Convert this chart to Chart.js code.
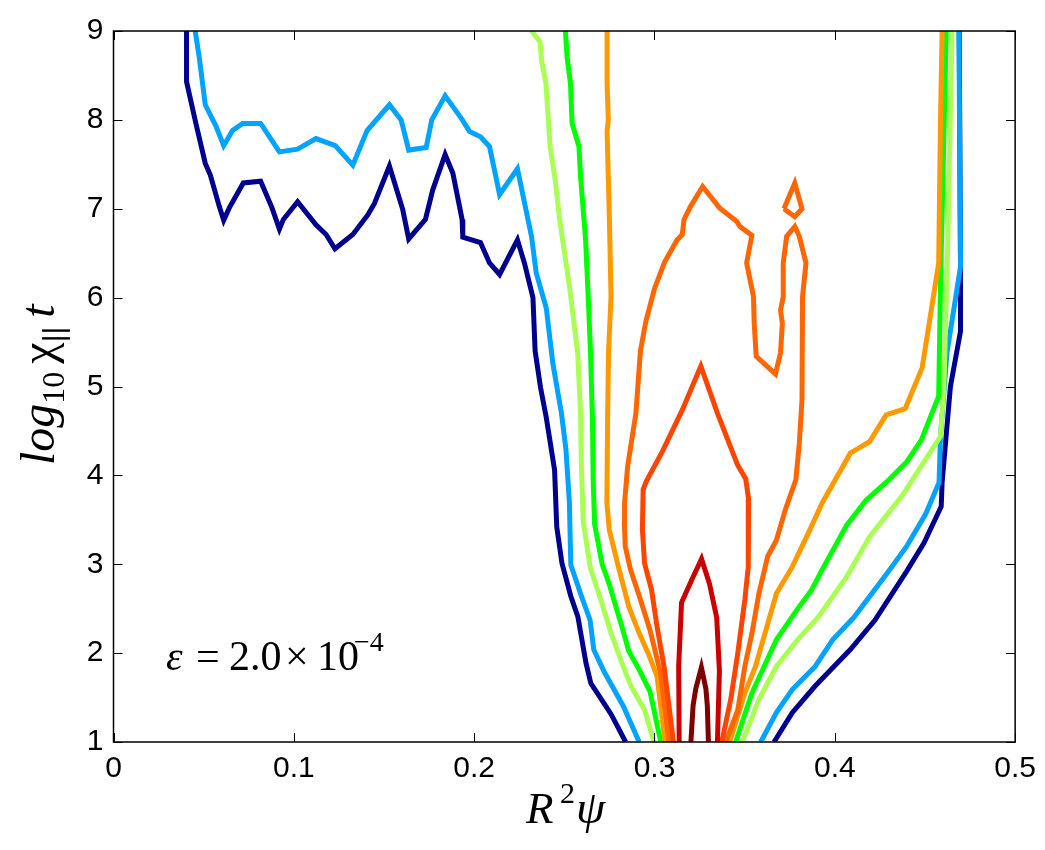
<!DOCTYPE html>
<html>
<head>
<meta charset="utf-8">
<script src="https://cdn.jsdelivr.net/npm/chart.js@4.4.1/dist/chart.umd.min.js"></script>
<style>
  html, body { margin: 0; padding: 0; background: #fff; }
  canvas { display: block; }
</style>
</head>
<body>
<canvas id="contours" width="1045" height="850"></canvas>
<script>
/* ------------ tick labels ------------ */
const xTicks = [0, 0.1, 0.2, 0.3, 0.4, 0.5];
const xTickLabels = ["0", "0.1", "0.2", "0.3", "0.4", "0.5"];
const yTicks = [1, 2, 3, 4, 5, 6, 7, 8, 9];
const yTickLabels = ["1", "2", "3", "4", "5", "6", "7", "8", "9"];

/* ------------ contour levels (outer -> inner), [R^2 psi, log10 chi t] ------------ */
const navyLeft = [
  [0.0405, 9.00], [0.0405, 8.43], [0.0457, 7.96], [0.0509, 7.51], [0.0537, 7.38], [0.0586, 7.03],
  [0.0611, 6.87], [0.0642, 7.01], [0.0720, 7.29], [0.0816, 7.31], [0.0879, 7.01], [0.0920, 6.77],
  [0.0942, 6.88], [0.1021, 7.08], [0.1123, 6.82], [0.1179, 6.71], [0.1228, 6.55], [0.1327, 6.71],
  [0.1410, 6.93], [0.1447, 7.06], [0.1530, 7.48], [0.1604, 6.99], [0.1637, 6.66], [0.1730, 6.88],
  [0.1770, 7.21], [0.1839, 7.61], [0.1882, 7.40], [0.1933, 6.88], [0.1937, 6.68], [0.2035, 6.62],
  [0.2085, 6.39], [0.2141, 6.26], [0.2240, 6.65], [0.2280, 6.38], [0.2326, 6.00], [0.2338, 5.40],
  [0.2368, 4.99], [0.2400, 4.65], [0.2446, 4.06], [0.2458, 3.42], [0.2487, 3.01], [0.2536, 2.64],
  [0.2575, 2.41], [0.2620, 1.89], [0.2647, 1.66], [0.2702, 1.49], [0.2760, 1.31], [0.2840, 1.00]
];
const navyRight = [
  [0.3663, 1.00], [0.3764, 1.33], [0.3891, 1.63], [0.4086, 2.04], [0.4222, 2.37], [0.4398, 2.92],
  [0.4495, 3.24], [0.4590, 3.65], [0.4595, 3.92], [0.4641, 5.00], [0.4697, 5.62], [0.4697, 6.35],
  [0.4690, 9.00]
];
const blueLeft = [
  [0.0453, 9.00], [0.0475, 8.71], [0.0509, 8.17], [0.0568, 7.93], [0.0611, 7.71], [0.0660, 7.88],
  [0.0716, 7.96], [0.0816, 7.96], [0.0920, 7.64], [0.1021, 7.67], [0.1123, 7.79], [0.1230, 7.71],
  [0.1327, 7.49], [0.1406, 7.88], [0.1530, 8.17], [0.1595, 8.00], [0.1637, 7.66], [0.1734, 7.69],
  [0.1765, 8.00], [0.1839, 8.27], [0.1928, 8.02], [0.1974, 7.87], [0.2035, 7.81], [0.2085, 7.70],
  [0.2141, 7.16], [0.2240, 7.45], [0.2280, 7.06], [0.2318, 6.69], [0.2344, 6.28], [0.2400, 5.88],
  [0.2437, 5.25], [0.2484, 4.70], [0.2509, 4.29], [0.2528, 3.70], [0.2536, 2.99], [0.2595, 2.64],
  [0.2643, 2.37], [0.2663, 2.04], [0.2721, 1.79], [0.2828, 1.40], [0.2915, 1.00]
];
const blueRight = [
  [0.3589, 1.00], [0.3676, 1.33], [0.3764, 1.59], [0.3891, 1.85], [0.3988, 2.15], [0.4105, 2.40],
  [0.4290, 2.90], [0.4398, 3.20], [0.4505, 3.57], [0.4578, 3.92], [0.4586, 4.44], [0.4622, 5.38],
  [0.4697, 6.35], [0.4688, 9.00]
];
const limeLeft = [
  [0.2318, 9.00], [0.2365, 8.88], [0.2374, 8.67], [0.2398, 8.41], [0.2421, 7.70], [0.2449, 7.33],
  [0.2474, 6.88], [0.2500, 6.52], [0.2530, 6.10], [0.2574, 5.38], [0.2590, 4.70], [0.2594, 4.14],
  [0.2605, 3.48], [0.2643, 2.97], [0.2702, 2.60], [0.2760, 2.22], [0.2819, 1.89], [0.2867, 1.64],
  [0.2945, 1.36], [0.2998, 1.00]
];
const limeRight = [
  [0.3487, 1.00], [0.3579, 1.48], [0.3676, 1.85], [0.3793, 2.15], [0.3910, 2.41], [0.4066, 2.86],
  [0.4193, 3.31], [0.4373, 3.77], [0.4475, 4.09], [0.4586, 4.44], [0.4605, 5.00], [0.4625, 6.50],
  [0.4650, 9.00]
];
const greenLeft = [
  [0.2506, 9.00], [0.2515, 8.71], [0.2534, 8.41], [0.2543, 7.96], [0.2581, 7.70], [0.2590, 7.36],
  [0.2618, 6.65], [0.2633, 5.98], [0.2645, 5.40], [0.2656, 4.63], [0.2660, 3.95], [0.2668, 3.45],
  [0.2710, 3.00], [0.2750, 2.77], [0.2819, 2.30], [0.2858, 2.02], [0.2916, 1.81], [0.2975, 1.57],
  [0.3035, 1.00]
];
const greenRight = [
  [0.3450, 1.00], [0.3540, 1.55], [0.3676, 2.15], [0.3784, 2.47], [0.3871, 2.71], [0.3930, 2.94],
  [0.4066, 3.44], [0.4173, 3.72], [0.4300, 3.95], [0.4398, 4.15], [0.4480, 4.40], [0.4576, 4.89],
  [0.4586, 6.13], [0.4618, 9.00]
];
const orangeLeft = [
  [0.2737, 9.00], [0.2737, 8.41], [0.2744, 8.00], [0.2737, 7.87], [0.2750, 6.88], [0.2759, 6.01],
  [0.2745, 5.38], [0.2740, 4.63], [0.2736, 3.69], [0.2749, 3.39], [0.2800, 2.97], [0.2858, 2.52],
  [0.2916, 2.22], [0.2965, 2.00], [0.3014, 1.74], [0.3059, 1.00]
];
const orangeRight = [
  [0.3417, 1.00], [0.3501, 1.55], [0.3560, 1.85], [0.3676, 2.67], [0.3764, 2.97], [0.3862, 3.39],
  [0.3930, 3.69], [0.4008, 3.97], [0.4086, 4.25], [0.4193, 4.38], [0.4285, 4.68], [0.4390, 4.75],
  [0.4484, 5.21], [0.4521, 5.68], [0.4576, 6.39], [0.4586, 8.00], [0.4595, 9.00]
];
const darkOrange = [
  [0.3081, 1.00], [0.3033, 1.78], [0.2975, 2.26], [0.2916, 2.64], [0.2867, 2.94], [0.2838, 3.20],
  [0.2833, 3.45], [0.2834, 3.69], [0.2851, 4.10], [0.2897, 4.70], [0.2922, 5.40], [0.2952, 5.73],
  [0.3000, 6.10], [0.3056, 6.40], [0.3126, 6.65], [0.3154, 6.71], [0.3164, 6.88], [0.3201, 7.03],
  [0.3267, 7.25], [0.3361, 7.01], [0.3455, 6.86], [0.3474, 6.80], [0.3540, 6.70], [0.3511, 6.39],
  [0.3549, 6.01], [0.3553, 5.71], [0.3564, 5.34], [0.3671, 5.14], [0.3699, 5.38], [0.3709, 5.71],
  [0.3699, 5.86], [0.3714, 6.01], [0.3714, 6.39], [0.3733, 6.69], [0.3778, 6.80], [0.3803, 6.69],
  [0.3840, 6.39], [0.3821, 6.01], [0.3818, 4.85], [0.3803, 4.36], [0.3784, 3.95], [0.3725, 3.61],
  [0.3676, 3.27], [0.3628, 3.09], [0.3579, 2.67], [0.3540, 2.22], [0.3501, 1.85], [0.3462, 1.36],
  [0.3395, 1.00]
];
const darkOrangeIsland = [
  [0.3718, 7.00], [0.3778, 7.29], [0.3818, 7.00], [0.3778, 6.91], [0.3718, 7.00]
];
const redOrange = [
  [0.3105, 1.00], [0.3053, 1.85], [0.3014, 2.30], [0.2984, 2.71], [0.2945, 3.01], [0.2933, 3.39],
  [0.2937, 3.84], [0.2954, 3.93], [0.3044, 4.27], [0.3155, 4.74], [0.3257, 5.23], [0.3349, 4.70],
  [0.3460, 4.12], [0.3506, 3.96], [0.3522, 3.73], [0.3520, 2.97], [0.3501, 2.60], [0.3462, 2.00],
  [0.3423, 1.48], [0.3373, 1.00]
];
const red = [
  [0.3137, 1.00], [0.3134, 1.85], [0.3150, 2.57], [0.3210, 2.84], [0.3261, 3.06], [0.3305, 2.78],
  [0.3345, 2.40], [0.3360, 1.80], [0.3349, 1.00]
];
const maroon = [
  [0.3202, 1.00], [0.3214, 1.41], [0.3229, 1.60], [0.3260, 1.84], [0.3285, 1.60], [0.3293, 1.41],
  [0.3299, 1.00]
];

/* ------------ colores (jet) ------------ */
const piezas = [
  { datos: navyLeft, color: "#00008f", nivel: 9 },
  { datos: navyRight, color: "#00008f", nivel: 9 },
  { datos: blueLeft, color: "#00a4ff", nivel: 8 },
  { datos: blueRight, color: "#00a4ff", nivel: 8 },
  { datos: limeLeft, color: "#aaff55", nivel: 7 },
  { datos: limeRight, color: "#aaff55", nivel: 7 },
  { datos: greenLeft, color: "#00ff00", nivel: 6 },
  { datos: greenRight, color: "#00ff00", nivel: 6 },
  { datos: orangeLeft, color: "#ff9900", nivel: 5 },
  { datos: orangeRight, color: "#ff9900", nivel: 5 },
  { datos: darkOrange, color: "#ff6600", nivel: 4 },
  { datos: darkOrangeIsland, color: "#ff6600", nivel: 4 },
  { datos: redOrange, color: "#ff4400", nivel: 3 },
  { datos: red, color: "#cc0000", nivel: 2 },
  { datos: maroon, color: "#800000", nivel: 1 }
];

/* ------------ marco, ticks hacia dentro y textos ------------ */
const marco = {
  id: "marco",
  afterDraw(chart) {
    const { ctx, chartArea: a, scales: { x, y } } = chart;
    ctx.save();
    ctx.strokeStyle = "#000";
    ctx.lineWidth = 1.5;
    ctx.strokeRect(a.left, a.top, a.right - a.left, a.bottom - a.top);

    ctx.lineWidth = 1;
    const seg = (x1, y1, x2, y2) => { ctx.beginPath(); ctx.moveTo(x1, y1); ctx.lineTo(x2, y2); ctx.stroke(); };
    x.ticks.forEach(t => {
      const px = Math.round(x.getPixelForValue(t.value)) + 0.5;
      seg(px, a.bottom, px, a.bottom - 9);
      seg(px, a.top, px, a.top + 9);
    });
    y.ticks.forEach(t => {
      const py = Math.round(y.getPixelForValue(t.value)) + 0.5;
      seg(a.left, py, a.left + 9, py);
      seg(a.right, py, a.right - 9, py);
    });

    ctx.fillStyle = "#000";
    ctx.textBaseline = "alphabetic";
    ctx.textAlign = "left";
    const serif = '"Liberation Serif", "Times New Roman", serif';

    // x title: R^2 psi
    ctx.font = "italic 45px " + serif;
    ctx.fillText("R", 526, 823);
    ctx.font = "30px " + serif;
    ctx.fillText("2", 560, 803);
    ctx.font = "italic 47px " + serif;
    ctx.fillText("ψ", 576, 823);

    // y title: log10 chi|| t
    ctx.save();
    ctx.translate(54, 465);
    ctx.rotate(-Math.PI / 2);
    let cx = 0;
    const trozo = (txt, font, dy) => {
      ctx.font = font;
      ctx.fillText(txt, cx, dy);
      cx += ctx.measureText(txt).width;
    };
    trozo("log", "italic 48px " + serif, 0);
    trozo("10", "32px " + serif, 10);
    cx += 8;
    trozo("χ", "48px " + serif, 0);
    trozo("||", '30px "Liberation Sans", Arial, sans-serif', 10);
    cx += 9;
    trozo("t", "italic 48px " + serif, 0);
    ctx.restore();

    // annotation
    ctx.font = "italic 42px " + serif;
    ctx.fillText("ε", 166, 670);
    ctx.font = "42px " + serif;
    ctx.fillText("=", 196, 670);
    ctx.fillText("2.0", 229, 670);
    ctx.fillText("×", 285, 670);
    ctx.fillText("10", 317, 670);
    ctx.font = "28px " + serif;
    ctx.fillText("−4", 354, 651);
    ctx.restore();
  }
};

function generarGrafico() {
  const ctx = document.getElementById("contours");
  new Chart(ctx, {
    type: "scatter",
    data: {
      datasets: piezas.map(p => ({
        data: p.datos.map(([x, y]) => ({ x, y })),
        showLine: true,
        borderColor: p.color,
        borderWidth: 5,
        pointRadius: 0,
        pointHoverRadius: 0,
        fill: false,
        tension: 0,
        clip: 0,
        order: p.nivel
      }))
    },
    options: {
      responsive: false,
      animation: false,
      layout: { padding: { top: 31, right: 29, left: 0, bottom: 0 } },
      plugins: { legend: { display: false }, tooltip: { enabled: false } },
      scales: {
        x: {
          type: "linear",
          min: 0,
          max: 0.5,
          afterFit(s) { s.height = 108; },
          afterBuildTicks(s) { s.ticks = xTicks.map(v => ({ value: v })); },
          ticks: {
            padding: 9,
            color: "#000",
            font: { family: '"Liberation Sans", Arial, sans-serif', size: 30 },
            callback: (v) => xTickLabels[xTicks.indexOf(v)]
          },
          grid: { display: false, drawTicks: false },
          border: { display: false }
        },
        y: {
          type: "linear",
          min: 1,
          max: 9,
          afterFit(s) { s.width = 113.5; },
          afterBuildTicks(s) { s.ticks = yTicks.map(v => ({ value: v })); },
          ticks: {
            padding: 10,
            color: "#000",
            font: { family: '"Liberation Sans", Arial, sans-serif', size: 30 },
            callback: (v) => yTickLabels[yTicks.indexOf(v)]
          },
          grid: { display: false, drawTicks: false },
          border: { display: false }
        }
      }
    },
    plugins: [marco]
  });
}

document.addEventListener("DOMContentLoaded", generarGrafico);
</script>
</body>
</html>
